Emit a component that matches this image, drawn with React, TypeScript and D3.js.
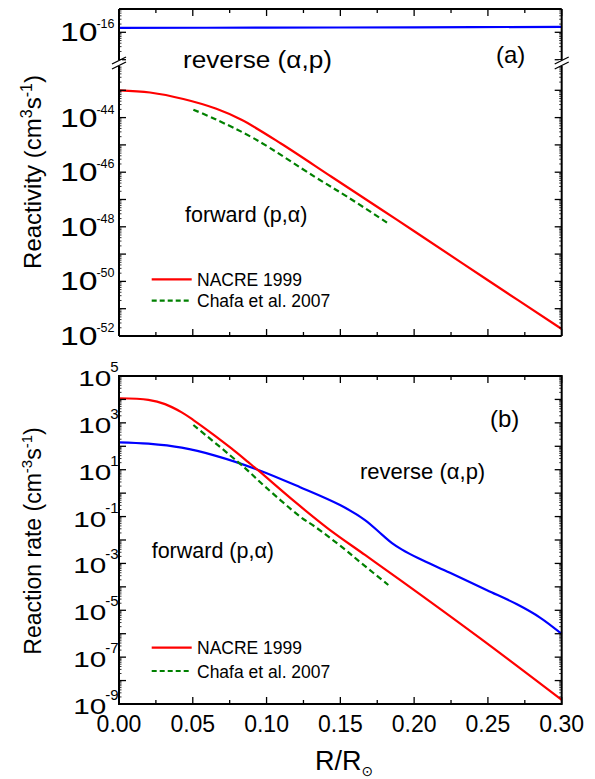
import React from "react";
import * as d3 from "d3";

const FONT = "'Liberation Sans', Arial, Helvetica, sans-serif";

// (a) reactivity, values
const topNacreR = [0, 0.021, 0.0436, 0.066, 0.083, 0.11, 0.144, 0.178, 0.2006, 0.25, 0.3];
const topNacreVal = [1.0e-43, 8.3e-44, 4.8e-44, 2.1e-44, 8.3e-45, 1.1e-45, 6.8e-47, 4.2e-48, 6.6e-49, 1.1e-50, 1.8e-52];
const topChafaR = [0.0504, 0.065, 0.092, 0.133, 0.155, 0.1825];
const topChafaVal = [1.95e-44, 8.9e-45, 1.66e-45, 6.6e-47, 1.23e-47, 1.32e-48];
const topReverseR = [0, 0.1, 0.2, 0.3];
const topReverseVal = [1.45e-16, 1.48e-16, 1.52e-16, 1.58e-16];

// (b) reaction rate
const botNacreR = [0, 0.0199, 0.0312, 0.0425, 0.0504, 0.0651, 0.0764, 0.0876, 0.0944, 0.1193, 0.1419, 0.1667, 0.1904, 0.2446, 0.3];
const botNacreVal = [1.12e4, 9.5e3, 6.3e3, 2.8e3, 1.32e3, 2.8e2, 79, 21, 9.3, 0.42, 3.0e-2, 2.3e-3, 2.0e-4, 6.5e-7, 1.5e-9];
const botChafaR = [0.0504, 0.0843, 0.099, 0.1227, 0.1328, 0.152, 0.1645, 0.1825];
const botChafaVal = [8.1e2, 13.5, 1.9, 0.1, 3.7e-2, 4.5e-3, 1.0e-3, 1.2e-4];
const botReverseR = [0, 0.0199, 0.0425, 0.0651, 0.0944, 0.1227, 0.1498, 0.1667, 0.1782, 0.185, 0.1918, 0.2026, 0.2243, 0.2494, 0.2697, 0.2853, 0.3];
const botReverseVal = [148, 129, 87, 40, 9.8, 1.8, 0.31, 7.1e-2, 1.7e-2, 7.4e-3, 3.9e-3, 1.7e-3, 4.0e-4, 7.2e-5, 1.8e-5, 4.9e-6, 9.8e-7];

const xTicks = [0, 0.05, 0.1, 0.15, 0.2, 0.25, 0.3];
const xMinor = [0.025, 0.075, 0.125, 0.175, 0.225, 0.275];
const topLabelExp = [-16, -44, -46, -48, -50, -52];
const botLabelExp = [5, 3, 1, -1, -3, -5, -7, -9];

const X0 = 119, X1 = 561.7;
const TY0 = 9, BRK = 63, TY1 = 336;
const BY0 = 376, BY1 = 704;

const x = d3.scaleLinear().domain([0, 0.3]).range([X0, X1]);
const yLow = d3.scaleLog().domain([1e-52, 1e-42]).range([TY1, BRK]);
const yHigh = d3.scaleLog().domain([Math.pow(10, -17.12), Math.pow(10, -15.15)]).range([BRK, TY0]);
const yBot = d3.scaleLog().domain([1e-9, 1e5]).range([BY1, BY0]);

const zip = (a: number[], b: number[]) => a.map((v, i) => [v, b[i]] as [number, number]);

function pathOf(y: any, r: number[], v: number[]) {
  return d3.line<[number, number]>()
    .x(d => x(d[0]))
    .y(d => y(d[1]))
    .curve(d3.curveCatmullRom.alpha(0.5))(zip(r, v)) as string;
}

function logTicks(y: any) {
  const [lo, hi] = y.domain();
  const majors: number[] = [];
  const minors: number[] = [];
  for (let e = Math.floor(Math.log10(lo)); e <= Math.ceil(Math.log10(hi)); e++) {
    const m = Math.pow(10, e);
    if (m >= lo * 1.0001 && m <= hi / 1.0001) majors.push(m);
    for (let k = 2; k <= 9; k++) {
      const v = k * m;
      if (v > lo && v < hi) minors.push(v);
    }
  }
  return { majors, minors };
}

function YTicks({ y }: { y: any }) {
  const { majors, minors } = logTicks(y);
  return (
    <g stroke="#000" strokeWidth={1.3}>
      {majors.map((m, i) => (
        <g key={"M" + i}>
          <line x1={X0} x2={X0 + 7} y1={y(m)} y2={y(m)} />
          <line x1={X1 - 7} x2={X1} y1={y(m)} y2={y(m)} />
        </g>
      ))}
      {minors.map((m, i) => (
        <g key={"m" + i} strokeWidth={0.8}>
          <line x1={X0} x2={X0 + 2.5} y1={y(m)} y2={y(m)} />
          <line x1={X1 - 2.5} x2={X1} y1={y(m)} y2={y(m)} />
        </g>
      ))}
    </g>
  );
}

function XTicks({ y0, y1 }: { y0: number; y1: number }) {
  return (
    <g stroke="#000" strokeWidth={1.3}>
      {xTicks.map((t, i) => (
        <g key={"M" + i}>
          <line x1={x(t)} x2={x(t)} y1={y1} y2={y1 - 7} />
          <line x1={x(t)} x2={x(t)} y1={y0} y2={y0 + 7} />
        </g>
      ))}
      {xMinor.map((t, i) => (
        <g key={"m" + i}>
          <line x1={x(t)} x2={x(t)} y1={y1} y2={y1 - 4} />
          <line x1={x(t)} x2={x(t)} y1={y0} y2={y0 + 4} />
        </g>
      ))}
    </g>
  );
}

function PowLabel({ y, exp, supEnd, base, sup, baseDy, supDy }: any) {
  const s = String(exp);
  const supW = [...s].reduce((a, c) => a + (c === "-" ? 0.333 : 0.556), 0) * sup;
  const baseEnd = supEnd - supW + 1;
  return (
    <g>
      <text transform={`translate(${baseEnd},${y + baseDy}) scale(1.35,1)`} textAnchor="end" fontSize={base}>10</text>
      <text x={supEnd} y={y + supDy} textAnchor="end" fontSize={sup}>{s}</text>
    </g>
  );
}

function Legend({ yRed, yGreen }: { yRed: number; yGreen: number }) {
  return (
    <g fontSize={17.5}>
      <line x1={151.7} x2={191.7} y1={yRed} y2={yRed} stroke="#ff0000" strokeWidth={2.2} />
      <text x={197} y={yRed + 6.5}>NACRE 1999</text>
      <line x1={151.7} x2={191.7} y1={yGreen} y2={yGreen} stroke="#008000" strokeWidth={2.2} strokeDasharray="5,3" />
      <text x={197} y={yGreen + 6.5}>Chafa et al. 2007</text>
    </g>
  );
}

export default function App() {
  const breakMark = (bx: number) => (
    <g>
      <rect x={bx - 3} y={BRK - 3} width={6} height={6} fill="#fff" />
      <line x1={bx - 7} y1={BRK + 1} x2={bx + 7} y2={BRK - 6} stroke="#000" strokeWidth={1.3} />
      <line x1={bx - 7} y1={BRK + 6} x2={bx + 7} y2={BRK - 1} stroke="#000" strokeWidth={1.3} />
    </g>
  );

  return (
    <svg width={595} height={779} style={{ position: "absolute", left: 0, top: 0, background: "#fff" }}
      fontFamily={FONT} fill="#000">
      {/* ---------- panel (a) ---------- */}
      <g fill="none" strokeWidth={2.2} strokeLinejoin="round">
        <path d={pathOf(yHigh, topReverseR, topReverseVal)} stroke="#0000ff" />
        <path d={pathOf(yLow, topNacreR, topNacreVal)} stroke="#ff0000" />
        <path d={pathOf(yLow, topChafaR, topChafaVal)} stroke="#008000" strokeDasharray="6,3.5" />
      </g>
      <YTicks y={yLow} />
      <YTicks y={yHigh} />
      <XTicks y0={TY0} y1={TY1} />
      <g stroke="#000" strokeWidth={2} fill="none">
        <line x1={X0} x2={X1} y1={TY0} y2={TY0} />
        <line x1={X0} x2={X1} y1={TY1} y2={TY1} />
        <line x1={X0} x2={X0} y1={TY0} y2={TY1} />
        <line x1={X1} x2={X1} y1={TY0} y2={TY1} />
      </g>
      {breakMark(X0)}
      {breakMark(X1)}
      {topLabelExp.map(e => (
        <PowLabel key={e} y={e > -20 ? yHigh(Math.pow(10, e)) : yLow(Math.pow(10, e))} exp={e}
          supEnd={114.5} base={25} sup={12.5} baseDy={9} supDy={-4} />
      ))}
      <text x={183} y={68} fontSize={23} textLength={149} lengthAdjust="spacingAndGlyphs">reverse (α,p)</text>
      <text x={496} y={63} fontSize={24}>(a)</text>
      <text x={185} y={222} fontSize={21.5}>forward (p,α)</text>
      <Legend yRed={279.3} yGreen={300.7} />
      <text transform={`translate(41,172) rotate(-90)`} textAnchor="middle" fontSize={24}>
        Reactivity (cm<tspan dy={-9} fontSize={16}>3</tspan><tspan dy={9}>s</tspan>
        <tspan dy={-9} fontSize={16}>-1</tspan><tspan dy={9}>)</tspan>
      </text>

      {/* ---------- panel (b) ---------- */}
      <g fill="none" strokeWidth={2.2} strokeLinejoin="round">
        <path d={pathOf(yBot, botReverseR, botReverseVal)} stroke="#0000ff" />
        <path d={pathOf(yBot, botNacreR, botNacreVal)} stroke="#ff0000" />
        <path d={pathOf(yBot, botChafaR, botChafaVal)} stroke="#008000" strokeDasharray="6,3.5" />
      </g>
      <YTicks y={yBot} />
      <XTicks y0={BY0} y1={BY1} />
      <rect x={X0} y={BY0} width={X1 - X0} height={BY1 - BY0} fill="none" stroke="#000" strokeWidth={2} />
      {botLabelExp.map(e => (
        <PowLabel key={e} y={yBot(Math.pow(10, e))} exp={e}
          supEnd={118.5} base={22} sup={15} baseDy={10} supDy={-4} />
      ))}
      {xTicks.map(t => (
        <text key={t} x={x(t)} y={732} textAnchor="middle" fontSize={23}>{t.toFixed(2)}</text>
      ))}
      <text x={490} y={427} fontSize={24}>(b)</text>
      <text x={360} y={479} fontSize={22}>reverse (α,p)</text>
      <text x={151.7} y={558} fontSize={21.5}>forward (p,α)</text>
      <Legend yRed={647.7} yGreen={671} />
      <text transform={`translate(41,541) rotate(-90)`} textAnchor="middle" fontSize={23}>
        Reaction rate (cm<tspan dy={-9} fontSize={15}>-3</tspan><tspan dy={9}>s</tspan>
        <tspan dy={-9} fontSize={15}>-1</tspan><tspan dy={9}>)</tspan>
      </text>
      <text x={315} y={770} fontSize={27}>
        R/R<tspan dy={6} fontSize={14} fontFamily="'DejaVu Sans', sans-serif">⊙</tspan>
      </text>
    </svg>
  );
}
